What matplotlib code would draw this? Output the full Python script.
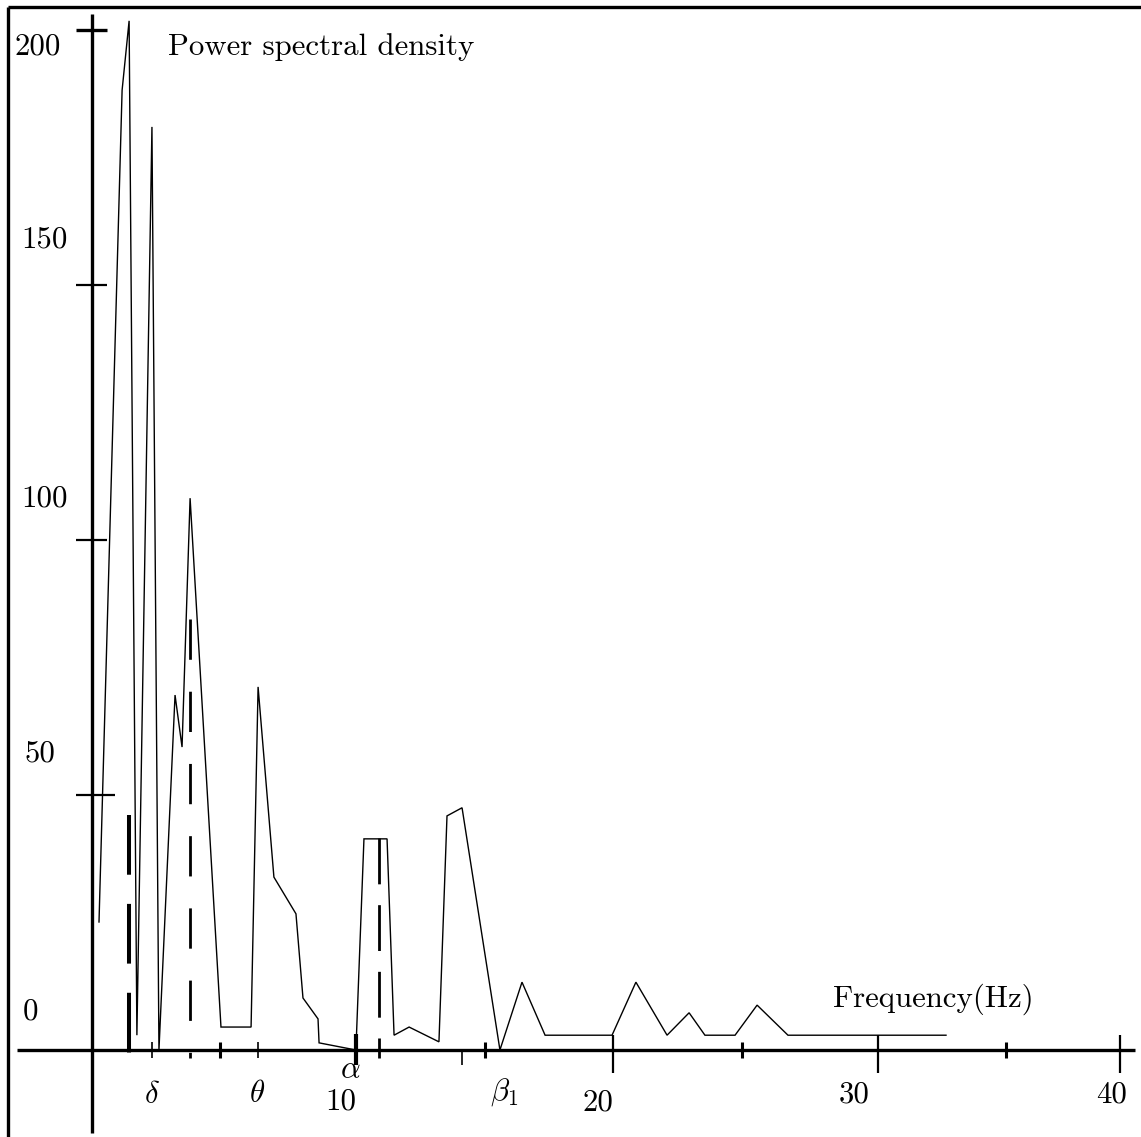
import matplotlib
matplotlib.use("Agg")
import matplotlib.pyplot as plt

# ---------------- data ----------------
freq_hz = [0.27, 1.16, 1.43, 1.73, 2.31, 2.58, 3.20, 3.47, 3.78, 4.97,
           6.13, 6.40, 7.01, 7.86, 8.13, 8.71, 8.75, 10.17, 10.48, 11.37,
           11.64, 12.22, 13.37, 13.68, 14.26, 15.72, 16.57, 17.46, 20.04, 20.96,
           22.16, 23.01, 23.62, 24.78, 25.63, 26.82, 32.91]
psd = [25.1, 188.2, 201.8, 2.9, 181.0, 0.0, 69.6, 59.4, 108.2, 4.5,
       4.5, 71.2, 33.9, 26.7, 10.2, 6.1, 1.4, 0.0, 41.4, 41.4,
       2.9, 4.5, 1.6, 45.9, 47.5, 0.0, 13.3, 2.9, 2.9, 13.3,
       2.9, 7.3, 2.9, 2.9, 8.8, 2.9, 2.9]

ytick_values = [50, 100, 150, 200]
ylabel_values = [0, 50, 100, 150, 200]
ylabel_texts = ["0", "50", "100", "150", "200"]

# hand-drawn tick marks, positions (Hz)
xmajor_ticks = [10.17, 20.08, 30.29, 39.61]
xmajor_texts = ["10", "20", "30", "40"]
xminor_ticks = [4.93, 15.14, 25.05, 35.22]
band_ticks_thin = [2.31, 6.40]
band_dashed = [1.43, 3.78, 11.06]
band_dashed_top = [46.1, 84.5, 41.6]
band_below_tick = [14.26]
band_names = [r"$\delta$", r"$\theta$", r"$\alpha$", r"$\beta_1$"]
band_name_x = [2.31, 6.36, 9.94, 15.90]

title_text = "Power spectral density"
xlabel_text = "Frequency(Hz)"

# ---------------- layout helpers (pixel -> data, layout only) ----------------
W, H = 1141, 1137
KX, X0 = 25.95, 92.0     # px per Hz, px of 0 Hz
KY, Y0 = 5.1, 1050.0     # px per unit, px of 0


def hz(px):
    return (px - X0) / KX


def val(py):
    return (Y0 - py) / KY


plt.rcParams["font.family"] = ["cmr10", "DejaVu Serif"]
plt.rcParams["mathtext.fontset"] = "cm"
plt.rcParams["lines.scale_dashes"] = False
plt.rcParams["axes.unicode_minus"] = False
FS = 22.2

fig = plt.figure(figsize=(W / 100, H / 100), dpi=100)
ax = fig.add_axes([0, 0, 1, 1])
ax.set_xlim(hz(0), hz(W))
ax.set_ylim(val(H), val(0))
ax.axis("off")

K = "black"
# frame (left and top)
ax.plot([hz(8), hz(8)], [val(7), val(H)], color=K, lw=2.4, solid_capstyle="butt")
ax.plot([hz(8), hz(W)], [val(7), val(7)], color=K, lw=2.4, solid_capstyle="butt")

# axes
ax.plot([hz(17), hz(1135)], [0, 0], color=K, lw=2.4, solid_capstyle="butt")
ax.plot([0, 0], [val(14), val(1133)], color=K, lw=2.4, solid_capstyle="butt")

# y ticks
for v in ytick_values:
    right = hz(115) if v == 50 else hz(107)
    lw = 2.4 if v == 200 else 1.6
    ax.plot([hz(76), right], [v, v], color=K, lw=lw, solid_capstyle="butt")

# y labels
ylab_left = [23, 24, 21, 21, 15]
ylab_dy = [5.9, 6.5, 6.5, 7.3, -4.9]
for v, t, xl, dy in zip(ylabel_values, ylabel_texts, ylab_left, ylab_dy):
    ax.text(hz(xl), v + dy, t, fontsize=FS, ha="left", va="baseline")

# x ticks
d8 = 8 / KY
for x in band_ticks_thin:
    ax.plot([x, x], [d8, -d8], color=K, lw=1.2, solid_capstyle="butt")
for x in xminor_ticks:
    ax.plot([x, x], [d8, -d8], color=K, lw=2.2, solid_capstyle="butt")
for x in band_below_tick:
    ax.plot([x, x], [0, -15 / KY], color=K, lw=1.2, solid_capstyle="butt")
for i, x in enumerate(xmajor_ticks):
    if i == 0:
        ax.plot([x, x], [16 / KY, -15 / KY], color=K, lw=3.0, solid_capstyle="butt")
    else:
        ax.plot([x, x], [15 / KY, -23 / KY], color=K, lw=1.6, solid_capstyle="butt")

# dashed band markers
dash_styles = [(2.9, (43, 21)), (2.0, (29, 23)), (2.0, (33, 15))]
for x, top, (lw, dsh) in zip(band_dashed, band_dashed_top, dash_styles):
    ax.plot([x, x], [top, -d8], color=K, lw=lw, dashes=dsh, solid_capstyle="butt",
            dash_capstyle="butt")

# curve
ax.plot(freq_hz, psd, color=K, lw=1.0, solid_joinstyle="miter")

# x labels
xlab_dx = [-0.58, -0.58, -0.92, -0.32]
xlab_y = [-11.6, -11.8, -10.2, -10.2]
for x, t, dx, y in zip(xmajor_ticks, xmajor_texts, xlab_dx, xlab_y):
    ax.text(x + dx, y, t, fontsize=FS, ha="center", va="baseline")

band_name_y = [-10.4, -10.2, -5.5, -9.8]
for x, t, y in zip(band_name_x, band_names, band_name_y):
    ax.text(x, y, t, fontsize=FS, ha="center", va="baseline")

ax.text(hz(168), val(55), title_text, fontsize=FS, ha="left", va="baseline")
ax.text(hz(833), val(1007), xlabel_text, fontsize=FS, ha="left", va="baseline")

fig.savefig("out.png", dpi=100)
